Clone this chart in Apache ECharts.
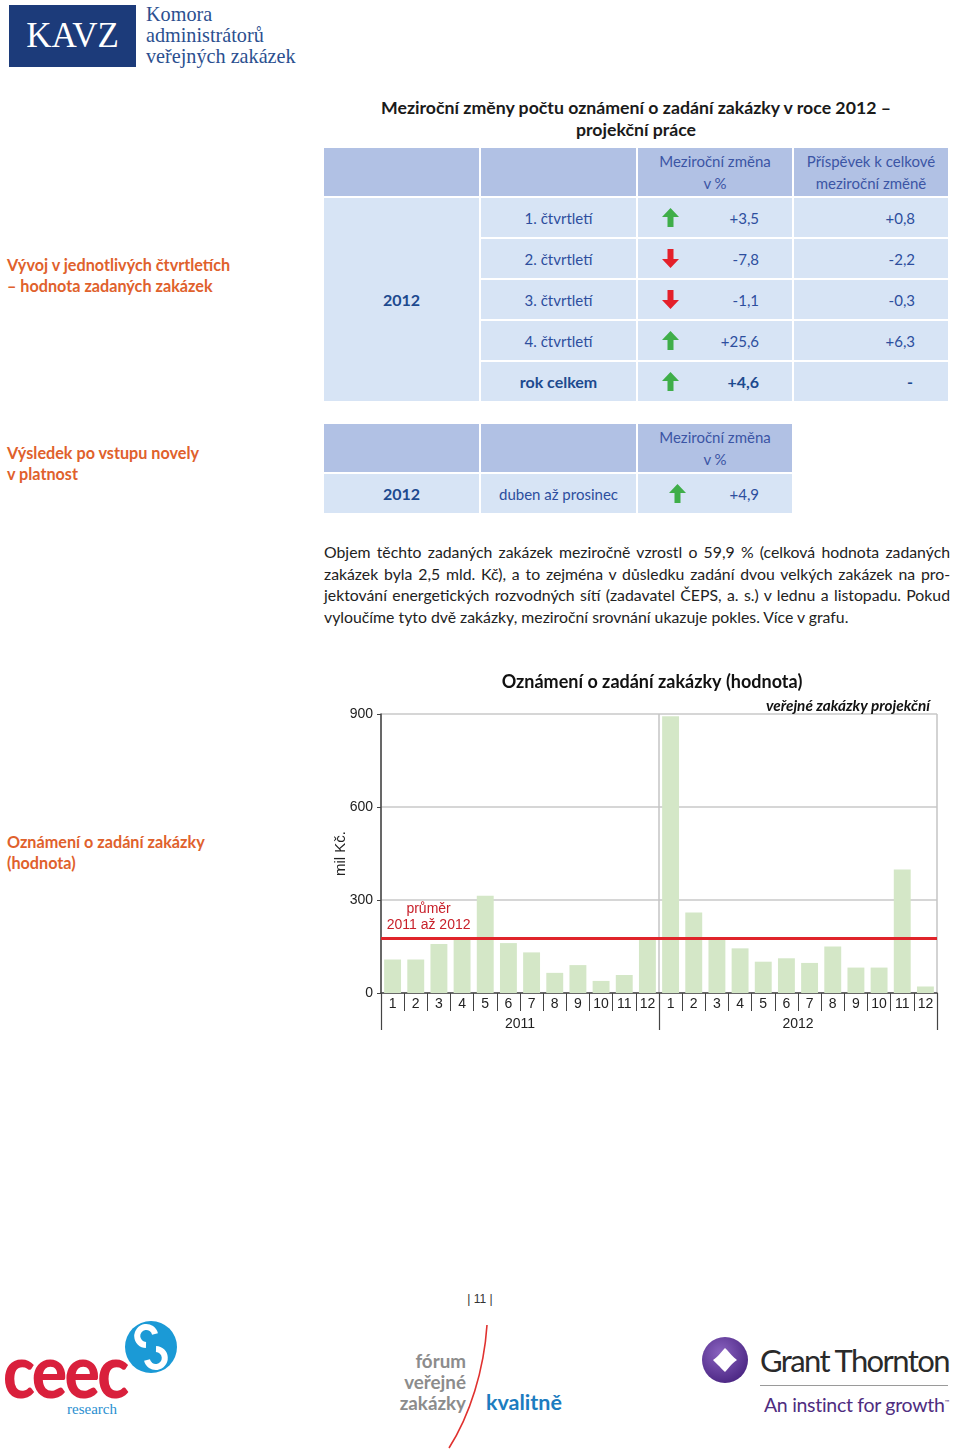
<!DOCTYPE html>
<html><head><meta charset="utf-8">
<script src="https://cdn.jsdelivr.net/npm/echarts@6/dist/echarts.min.js"></script>
<style>
html,body{margin:0;padding:0;background:#fff;}
#page{position:relative;width:960px;height:1454px;overflow:hidden;font-family:Lato,'Open Sans',sans-serif;}
.abs{position:absolute;}
.orange{position:absolute;left:7px;color:#e0612c;font-weight:bold;font-size:16.2px;line-height:21px;white-space:nowrap;}
.cell{position:absolute;box-sizing:border-box;display:flex;align-items:center;font-size:15px;color:#2d4e9e;white-space:nowrap;}
.hdr{justify-content:center;text-align:center;line-height:22px;color:#3b55a5;}
.para div{height:21.7px;line-height:21.7px;text-align:justify;text-align-last:justify;white-space:nowrap;}
.para div.last{text-align-last:left;}
</style>
</head><body>
<div id="page">
  <!-- KAVZ logo -->
  <div class="abs" style="left:9px;top:5px;width:127px;height:62px;background:#1c3b7a;color:#fff;font-family:'Liberation Serif',serif;font-size:35px;line-height:62px;text-align:center;">KAVZ</div>
  <div class="abs" style="left:146px;top:4px;font-family:'Liberation Serif',serif;font-size:20.2px;line-height:21px;color:#2b4f8f;">Komora<br>administrátorů<br>veřejných zakázek</div>

  <div class="abs" style="left:316px;top:97px;width:640px;text-align:center;font-weight:bold;font-size:17.7px;line-height:22px;color:#1a1a1a;">Meziroční změny počtu oznámení o zadání zakázky v roce 2012 –<br>projekční práce</div>

  <div class="orange" style="top:253.5px;">Vývoj v jednotlivých čtvrtletích<br>– hodnota zadaných zakázek</div>
  <div class="orange" style="top:441.5px;">Výsledek po vstupu novely<br>v platnost</div>
  <div class="orange" style="top:830.5px;">Oznámení o zadání zakázky<br>(hodnota)</div>

  <div class="abs para" style="left:324px;top:541px;width:626px;font-size:15.8px;color:#222;" id="para"></div>

  <div id="chart" class="abs" style="left:320px;top:660px;width:640px;height:385px;"></div>

  <!-- footer -->
  <div class="abs" style="left:440px;top:1292px;width:80px;text-align:center;font-family:'Liberation Sans',sans-serif;font-size:12px;color:#333;">|&nbsp;11&nbsp;|</div>

  <!-- ceec -->
  <div class="abs" style="left:3px;top:1347px;font-family:Lato,sans-serif;font-weight:900;font-size:75px;line-height:45px;height:45px;letter-spacing:-3px;color:#d9203c;transform:scaleX(0.88);transform-origin:0 0;white-space:nowrap;">ceec</div>
  <div class="abs" style="left:67px;top:1402px;font-family:'Liberation Serif',serif;font-size:15px;line-height:15px;color:#2a8fd0;">research</div>
  <svg class="abs" style="left:124px;top:1320px;" width="56" height="56" viewBox="0 0 56 56">
    <circle cx="27" cy="27" r="26" fill="#1b9ad6"/>
    <path d="M31 14 A9 9 0 1 0 22 25" fill="none" stroke="#fff" stroke-width="6"/>
    <path d="M23 40 A9 9 0 1 0 32 29" fill="none" stroke="#fff" stroke-width="6"/>
  </svg>

  <!-- forum -->
  <div class="abs" style="left:346px;top:1350px;width:120px;text-align:right;font-family:Lato,sans-serif;font-weight:bold;font-size:18.8px;line-height:21px;color:#8c8c8c;">fórum<br>veřejné<br>zakázky</div>
  <svg class="abs" style="left:440px;top:1320px;" width="60" height="134" viewBox="0 0 60 134">
    <path d="M47 5 C44 50 30 95 9 128" fill="none" stroke="#e0312f" stroke-width="1.6"/>
  </svg>
  <div class="abs" style="left:486px;top:1389px;font-family:Lato,sans-serif;font-weight:bold;font-size:21.5px;line-height:26px;color:#1c7cc0;">kvalitně</div>

  <!-- Grant Thornton -->
  <svg class="abs" style="left:700px;top:1335px;" width="50" height="50" viewBox="0 0 50 50">
    <defs><radialGradient id="gt" cx="40%" cy="35%" r="70%"><stop offset="0%" stop-color="#8a63c0"/><stop offset="100%" stop-color="#4a2582"/></radialGradient></defs>
    <circle cx="25" cy="25" r="23" fill="url(#gt)"/>
    <path d="M25 13 C31 19 33 22 37 25 C31 29 29 33 25 37 C19 31 17 29 13 25 C19 21 21 17 25 13 Z" fill="#fff"/>
  </svg>
  <div class="abs" style="left:760px;top:1341px;font-family:Lato,sans-serif;font-size:31px;line-height:38px;letter-spacing:-1.6px;color:#2a2a2a;">Grant Thornton</div>
  <div class="abs" style="left:760px;top:1385px;width:188px;height:1px;background:#9a9a9a;"></div>
  <div class="abs" style="left:764px;top:1390px;font-family:Lato,sans-serif;font-size:19.5px;line-height:24px;letter-spacing:-0.3px;color:#4f2d7f;">An instinct for growth<sup style="font-size:6px;">™</sup></div>
</div>

<script>
// ---------- data ----------
var quarterLabels = ['1. čtvrtletí', '2. čtvrtletí', '3. čtvrtletí', '4. čtvrtletí', 'rok celkem'];
var yoyChange = ['+3,5', '-7,8', '-1,1', '+25,6', '+4,6'];
var contribution = ['+0,8', '-2,2', '-0,3', '+6,3', '-'];
var tableYear = '2012';
var header1 = ['', '', 'Meziroční změna<br>v %', 'Příspěvek k celkové<br>meziroční změně'];
var periodLabel = 'duben až prosinec';
var periodChange = '+4,9';
var paragraphLines = [
  'Objem těchto zadaných zakázek meziročně vzrostl o 59,9 % (celková hodnota zadaných',
  'zakázek byla 2,5 mld. Kč), a to zejména v důsledku zadání dvou velkých zakázek na pro-',
  'jektování energetických rozvodných sítí (zadavatel ČEPS, a. s.) v lednu a listopadu. Pokud',
  'vyloučíme tyto dvě zakázky, meziroční srovnání ukazuje pokles. Více v grafu.'
];

var months = ['1','2','3','4','5','6','7','8','9','10','11','12','1','2','3','4','5','6','7','8','9','10','11','12'];
var years = ['2011', '2012'];
var values = [108, 108, 158, 172, 314, 161, 131, 65, 90, 39, 58, 172,
              893, 260, 174, 144, 101, 112, 97, 150, 82, 82, 398, 21];
var averageValue = 176;
var yTicks = [0, 300, 600, 900];

// ---------- tables ----------
var HDR = '#b1c1e4', BODY = '#d7e4f5';
function arrow(sign) {
  if (sign === '+') return '<svg width="17" height="19" viewBox="0 0 17 19"><polygon points="8.5,0 17,9 11.5,9 11.5,19 5.5,19 5.5,9 0,9" fill="#3fae49"/></svg>';
  return '<svg width="17" height="19" viewBox="0 0 17 19"><polygon points="5.5,0 11.5,0 11.5,10 17,10 8.5,19 0,10 5.5,10" fill="#e4202a"/></svg>';
}
function cell(parent, x, y, w, h, bg, html, cls, extra) {
  var d = document.createElement('div');
  d.className = 'cell ' + (cls || '');
  d.style.cssText = 'left:' + x + 'px;top:' + y + 'px;width:' + w + 'px;height:' + h + 'px;background:' + bg + ';' + (extra || '');
  d.innerHTML = html;
  parent.appendChild(d);
  return d;
}
var colX = [324, 481, 638, 794], colW = [155, 155, 154, 154];
var t1 = document.getElementById('page');
for (var c = 0; c < 4; c++) cell(t1, colX[c], 148, colW[c], 48, HDR, header1[c], 'hdr');
var rowY0 = 198, rowH = 39, rowStep = 41;
cell(t1, colX[0], rowY0, colW[0], rowStep * 4 + rowH, BODY, '<b style="font-size:16px;color:#1d4a8f;">' + tableYear + '</b>', '', 'justify-content:center;');
quarterLabels.forEach(function (q, i) {
  var y = rowY0 + i * rowStep;
  var bold = (i === quarterLabels.length - 1);
  var fw = bold ? 'font-weight:bold;font-size:16px;color:#1d4a8f;' : '';
  cell(t1, colX[1], y, colW[1], rowH, BODY, '<span style="' + fw + '">' + q + '</span>', '', 'justify-content:center;');
  cell(t1, colX[2], y, colW[2], rowH, BODY,
    '<span style="position:absolute;left:24px;top:10px;">' + arrow(yoyChange[i].charAt(0)) + '</span>' +
    '<span style="position:absolute;right:33px;' + fw + '">' + yoyChange[i] + '</span>', '', '');
  cell(t1, colX[3], y, colW[3], rowH, BODY,
    '<span style="position:absolute;right:' + (contribution[i] === '-' ? 35 : 33) + 'px;' + fw + '">' + contribution[i] + '</span>', '', '');
});
// table 2
cell(t1, colX[0], 424, colW[0], 48, HDR, '', 'hdr');
cell(t1, colX[1], 424, colW[1], 48, HDR, '', 'hdr');
cell(t1, colX[2], 424, colW[2], 48, HDR, header1[2], 'hdr');
cell(t1, colX[0], 474, colW[0], 39, BODY, '<b style="font-size:16px;color:#1d4a8f;">' + tableYear + '</b>', '', 'justify-content:center;');
cell(t1, colX[1], 474, colW[1], 39, BODY, periodLabel, '', 'justify-content:center;');
cell(t1, colX[2], 474, colW[2], 39, BODY,
  '<span style="position:absolute;left:31px;top:10px;">' + arrow(periodChange.charAt(0)) + '</span>' +
  '<span style="position:absolute;right:33px;">' + periodChange + '</span>', '', '');

var para = document.getElementById('para');
paragraphLines.forEach(function (l, i) {
  var d = document.createElement('div');
  if (i === paragraphLines.length - 1) d.className = 'last';
  d.textContent = l;
  para.appendChild(d);
});

// ---------- chart ----------
var chart = echarts.init(document.getElementById('chart'), null, { renderer: 'canvas' });
var axisColor = '#444';
var option = {
  animation: false,
  title: [
    { text: 'Oznámení o zadání zakázky (hodnota)', left: 327, top: 8, textAlign: 'center',
      textStyle: { fontFamily: 'Lato', fontWeight: 'bold', fontSize: 18, color: '#111' } },
    { text: 'veřejné zakázky projekční', right: 25, top: 34,
      textStyle: { fontFamily: 'Lato', fontWeight: 'bold', fontStyle: 'italic', fontSize: 15.3, color: '#111' } }
  ],
  grid: { left: 61, right: 23, top: 54, bottom: 52, containLabel: false, outerBoundsMode: 'none' },
  xAxis: [
    { type: 'category', data: months, position: 'bottom',
      axisLine: { show: true, lineStyle: { color: axisColor, width: 1.5 } },
      axisTick: { show: true, interval: 0, length: 18, lineStyle: { color: axisColor, width: 1 } },
      axisLabel: { interval: 0, margin: 4, fontFamily: 'Liberation Sans', fontSize: 14, color: '#222' },
      splitLine: { show: false } },
    { type: 'category', data: years, position: 'bottom', gridIndex: 0,
      axisLine: { show: false },
      axisTick: { show: true, interval: 0, length: 37, lineStyle: { color: axisColor, width: 1.2 } },
      axisLabel: { interval: 0, margin: 24, fontFamily: 'Liberation Sans', fontSize: 14, color: '#222' },
      splitLine: { show: true, interval: 0, lineStyle: { color: '#c4c4c4', width: 1.5 } } }
  ],
  yAxis: {
    type: 'value', min: yTicks[0], max: yTicks[yTicks.length - 1], interval: yTicks[1] - yTicks[0],
    name: 'mil Kč.', nameLocation: 'middle', nameGap: 33, nameRotate: 90, nameMoveOverlap: false,
    nameTextStyle: { fontFamily: 'Liberation Sans', fontSize: 15, color: '#222' },
    axisLine: { show: true, lineStyle: { color: axisColor, width: 1.5 } },
    axisTick: { show: true, length: 4, lineStyle: { color: axisColor } },
    axisLabel: { margin: 8, fontFamily: 'Liberation Sans', fontSize: 14, color: '#222' },
    splitLine: { show: true, lineStyle: { color: '#c8c8c8', width: 1.5 } }
  },
  series: [{
    type: 'bar', xAxisIndex: 0, data: values, barCategoryGap: '27%',
    itemStyle: { color: '#d4e7c7' },
    markLine: { silent: true, symbol: 'none', label: { show: false },
      lineStyle: { color: '#e0242a', width: 3, type: 'solid' },
      data: [{ yAxis: averageValue }] }
  }]
};
chart.setOption(option);
var pxLeft = chart.convertToPixel({ xAxisIndex: 0 }, 0);
var pxY = chart.convertToPixel({ yAxisIndex: 0 }, averageValue);
var labelX = pxLeft + 36;
chart.setOption({
  graphic: [
    { type: 'text', x: labelX, y: pxY - 29, silent: true,
      style: { text: 'průměr', fill: '#c8202a', fontFamily: 'Liberation Sans', fontSize: 14,
               align: 'center', verticalAlign: 'middle' } },
    { type: 'text', x: labelX, y: pxY - 13, silent: true,
      style: { text: '2011 až 2012', fill: '#c8202a', fontFamily: 'Liberation Sans', fontSize: 14,
               align: 'center', verticalAlign: 'middle' } }
  ]
});
</script>
</body></html>
